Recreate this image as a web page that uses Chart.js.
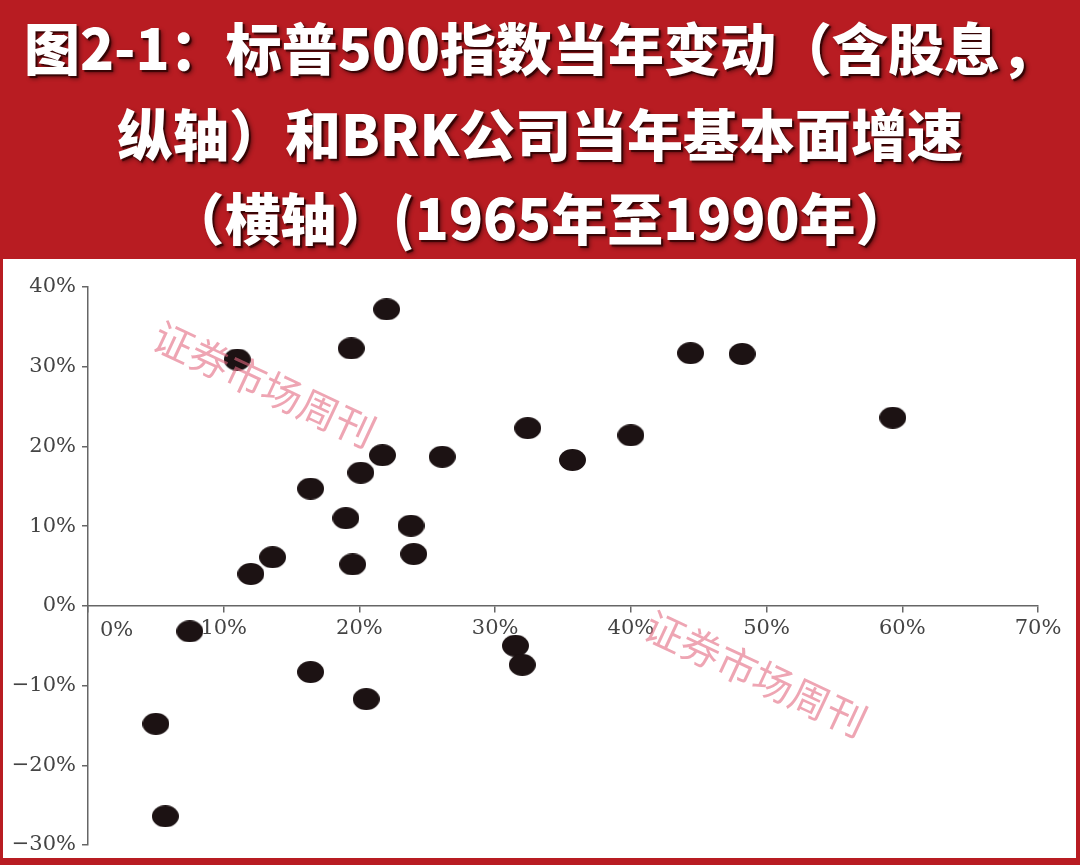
<!DOCTYPE html>
<html>
<head>
<meta charset="utf-8">
<script src="https://cdn.jsdelivr.net/npm/chart.js@4.4.0/dist/chart.umd.min.js"></script>
<style>
  html, body { margin: 0; padding: 0; }
  body { width: 1080px; height: 865px; background: #b81c22; position: relative; overflow: hidden; }
  #title {
    position: absolute; left: 0; top: 0; width: 1080px; height: 258px;
    color: #fff; text-align: center;
    font-family: "Noto Sans CJK SC", sans-serif; font-weight: 900; font-size: 56px;
    text-shadow: 2px 2px 1px rgba(40,0,0,0.8), 3px 3px 4px rgba(0,0,0,0.45);
  }
  #title div { position: absolute; left: 0; width: 1080px; line-height: 60px; white-space: nowrap; }
  #box { position: absolute; left: 3px; top: 259px; width: 1073px; height: 599px; background: #fff; }
</style>
</head>
<body>
<div id="title">
  <div style="top:16px">图2-1：标普500指数当年变动（含股息，</div>
  <div style="top:102px">纵轴）和BRK公司当年基本面增速</div>
  <div style="top:186px">（横轴）(1965年至1990年）</div>
</div>
<div id="box"><canvas id="myChart" width="1073" height="599"></canvas></div>
<script>
// BRK fundamental growth (x, %) vs S&P 500 change incl. dividends (y, %), 1965-1990
const brkGrowth = [22.0, 19.4, 11.0, 44.4, 48.2, 59.3, 32.4, 40.0, 35.7, 21.7,
                   26.1, 20.1, 16.4, 19.0, 23.8, 13.6, 12.0, 19.5, 24.0, 7.5,
                   31.5, 32.0, 16.4, 20.5, 5.0, 5.7];
const spChange = [37.2, 32.3, 30.9, 31.7, 31.6, 23.6, 22.3, 21.4, 18.3, 18.9,
                  18.7, 16.7, 14.7, 11.0, 10.05, 6.1, 4.0, 5.2, 6.5, -3.2,
                  -5.0, -7.4, -8.3, -11.7, -14.8, -26.4];
const xTicks = [0, 10, 20, 30, 40, 50, 60, 70];
const yTicks = [-30, -20, -10, 0, 10, 20, 30, 40];
const watermark = "证券市场周刊";

const points = brkGrowth.map((x, i) => ({ x: x, y: spChange[i] }));
const pct = v => (v < 0 ? '\u2212' + Math.abs(v) : v) + '%';

// slightly flattened dot like the scanned original
const dot = document.createElement('canvas');
dot.width = 27; dot.height = 22;
const dctx = dot.getContext('2d');
dctx.fillStyle = '#1c1213';
dctx.beginPath();
dctx.ellipse(13.5, 11, 13.5, 11, 0, 0, Math.PI * 2);
dctx.fill();

const axisColor = '#666';
const labelColor = '#444';
const labelFont = { family: '"DejaVu Serif", "Liberation Serif", serif', size: 21, lineHeight: 1 };

// zero label on x axis sits to the right of the y axis, plus the two watermarks
const extras = {
  id: 'extras',
  afterDatasetsDraw(chart) {
    const ctx = chart.ctx;
    const xs = chart.scales.x, ys = chart.scales.y;
    ctx.save();
    ctx.font = '21px "DejaVu Serif", "Liberation Serif", serif';
    ctx.fillStyle = labelColor;
    ctx.textAlign = 'left';
    ctx.textBaseline = 'top';
    ctx.fillText('0%', xs.getPixelForValue(0) + 12, ys.getPixelForValue(0) + 14);

    ctx.font = '40px "Noto Sans CJK SC", sans-serif';
    ctx.fillStyle = 'rgba(226, 105, 128, 0.6)';
    ctx.textAlign = 'center';
    ctx.textBaseline = 'middle';
    [[13, 27.8], [49.2, -8.5]].forEach(p => {
      ctx.save();
      ctx.translate(xs.getPixelForValue(p[0]), ys.getPixelForValue(p[1]));
      ctx.rotate(25 * Math.PI / 180);
      ctx.fillText(watermark, 0, 0);
      ctx.restore();
    });
    ctx.restore();
  }
};

new Chart(document.getElementById('myChart'), {
  type: 'scatter',
  data: {
    datasets: [{
      data: points,
      pointStyle: dot,
      pointRadius: 12,
      pointHoverRadius: 12
    }]
  },
  options: {
    responsive: false,
    animation: false,
    devicePixelRatio: 1,
    layout: { padding: { left: 3, right: 38, top: 28, bottom: 11 } },
    plugins: { legend: { display: false }, tooltip: { enabled: false } },
    scales: {
      x: {
        type: 'linear',
        position: { y: 0 },
        min: 0, max: 70,
        afterBuildTicks: s => { s.ticks = xTicks.map(v => ({ value: v })); },
        afterFit: s => { s.height = 0; s.paddingLeft = 0; s.paddingRight = 0; },
        border: { display: true, color: axisColor, width: 1.5 },
        grid: { drawOnChartArea: false, drawTicks: true, tickLength: 6, color: axisColor, lineWidth: 1.5 },
        ticks: {
          color: labelColor, font: labelFont, padding: 6, maxRotation: 0,
          callback: v => v === 0 ? '' : pct(v)
        }
      },
      y: {
        type: 'linear',
        min: -30, max: 40,
        afterBuildTicks: s => { s.ticks = yTicks.map(v => ({ value: v })); },
        afterFit: s => { s.width = 82; s.paddingTop = 0; s.paddingBottom = 0; },
        border: { display: true, color: axisColor, width: 1.5 },
        grid: { drawOnChartArea: false, drawTicks: true, tickLength: 6, color: axisColor, lineWidth: 1.5 },
        ticks: { color: labelColor, font: labelFont, padding: 6, callback: v => pct(v) }
      }
    }
  },
  plugins: [extras]
});
</script>
</body>
</html>
